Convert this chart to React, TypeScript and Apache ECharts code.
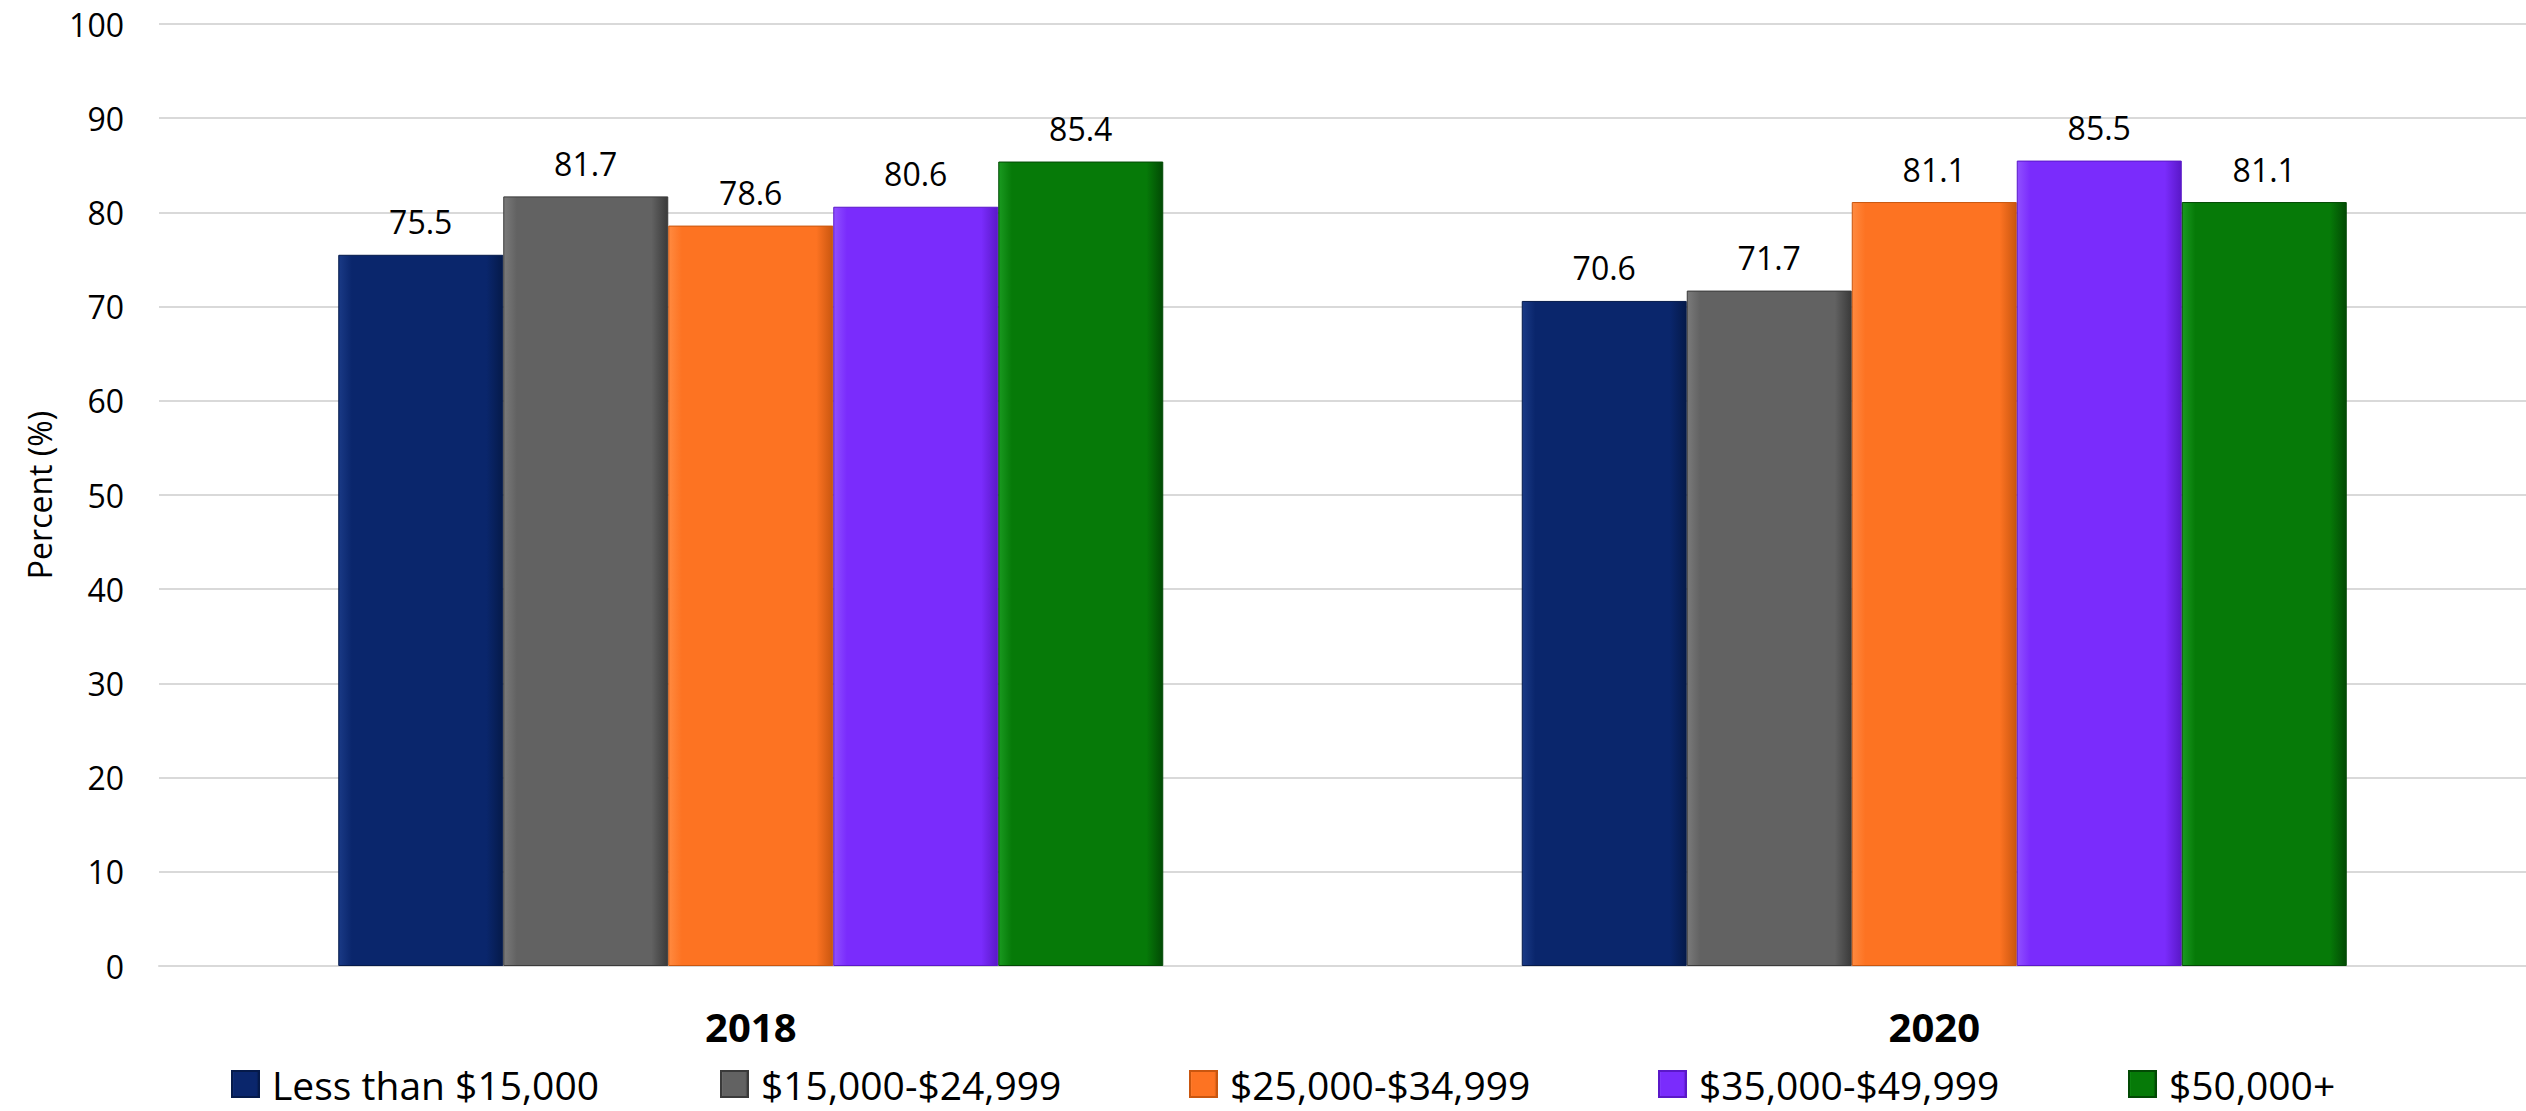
import React, { useEffect, useRef } from "react";
import * as echarts from "echarts";

const categories = ["2018", "2020"];
const seriesNames = [
  "Less than $15,000",
  "$15,000-$24,999",
  "$25,000-$34,999",
  "$35,000-$49,999",
  "$50,000+",
];
const lessThan15k = [75.5, 70.6];
const from15kTo25k = [81.7, 71.7];
const from25kTo35k = [78.6, 81.1];
const from35kTo50k = [80.6, 85.5];
const over50k = [85.4, 81.1];
const yTicks = [0, 10, 20, 30, 40, 50, 60, 70, 80, 90, 100];

const seriesValues = [lessThan15k, from15kTo25k, from25kTo35k, from35kTo50k, over50k];
const baseColors = ["#0a266c", "#626262", "#fd7322", "#7a2cfc", "#067a08"];
const edgeDark = ["#051a4a", "#3a3a3a", "#c9560f", "#5a18c8", "#024a04"];
const edgeLight = ["#1a3a86", "#7a7a7a", "#ff8a40", "#9050ff", "#1a9a20"];
const legendLefts = [231, 720, 1189, 1658, 2128];

const FONT = "'Open Sans', 'Noto Sans', sans-serif";

export default function App() {
  const ref = useRef<HTMLDivElement>(null);
  useEffect(() => {
    if (!ref.current) return;
    const chart = echarts.init(ref.current, undefined, { renderer: "svg" });
    const series = seriesNames.map((name, i) => ({
      name,
      type: "bar",
      data: seriesValues[i],
      barWidth: 165,
      barGap: "0%",
      itemStyle: {
        color: new echarts.graphic.LinearGradient(0, 0, 1, 0, [
          { offset: 0, color: edgeLight[i] },
          { offset: 0.08, color: baseColors[i] },
          { offset: 0.9, color: baseColors[i] },
          { offset: 1, color: edgeDark[i] },
        ]),
        borderColor: edgeDark[i],
        borderWidth: 1,
      },
      label: {
        show: true,
        position: "top",
        distance: 17,
        color: "#000",
        fontSize: 32,
        fontFamily: FONT,
        formatter: (p: any) => Number(p.value).toFixed(1),
      },
    }));
    chart.setOption({
      animation: false,
      backgroundColor: "#ffffff",
      textStyle: { fontFamily: FONT },
      grid: { left: 159, right: -7, top: 24, bottom: 145, containLabel: false },
      legend: seriesNames.map((name, i) => ({
        data: [name],
        left: legendLefts[i],
        top: 1064,
        padding: 0,
        itemWidth: 27,
        itemHeight: 26,
        itemGap: 0,
        icon: "rect",
        textStyle: { fontSize: 39, lineHeight: 40, color: "#000", fontFamily: FONT, padding: [0, 0, 0, 8] },
        selectedMode: false,
      })),
      xAxis: {
        type: "category",
        data: categories,
        axisLine: { show: true, lineStyle: { color: "#d9d9d9", width: 2 } },
        axisTick: { show: false },
        axisLabel: {
          fontSize: 40,
          fontWeight: "bold",
          color: "#000",
          fontFamily: FONT,
          margin: 40,
        },
      },
      yAxis: {
        type: "value",
        min: yTicks[0],
        max: yTicks[yTicks.length - 1],
        interval: 10,
        name: "Percent (%)",
        nameLocation: "middle",
        nameGap: 104,
        nameTextStyle: { fontSize: 32, color: "#000", fontFamily: FONT },
        axisLine: { show: false },
        axisTick: { show: false },
        axisLabel: { fontSize: 32, color: "#000", fontFamily: FONT, margin: 35 },
        splitLine: { show: true, lineStyle: { color: "#d9d9d9", width: 2 } },
      },
      series,
    });
    return () => chart.dispose();
  }, []);
  return (
    <div
      ref={ref}
      style={{ position: "fixed", left: 0, top: 0, width: 2526, height: 1111 }}
    />
  );
}
